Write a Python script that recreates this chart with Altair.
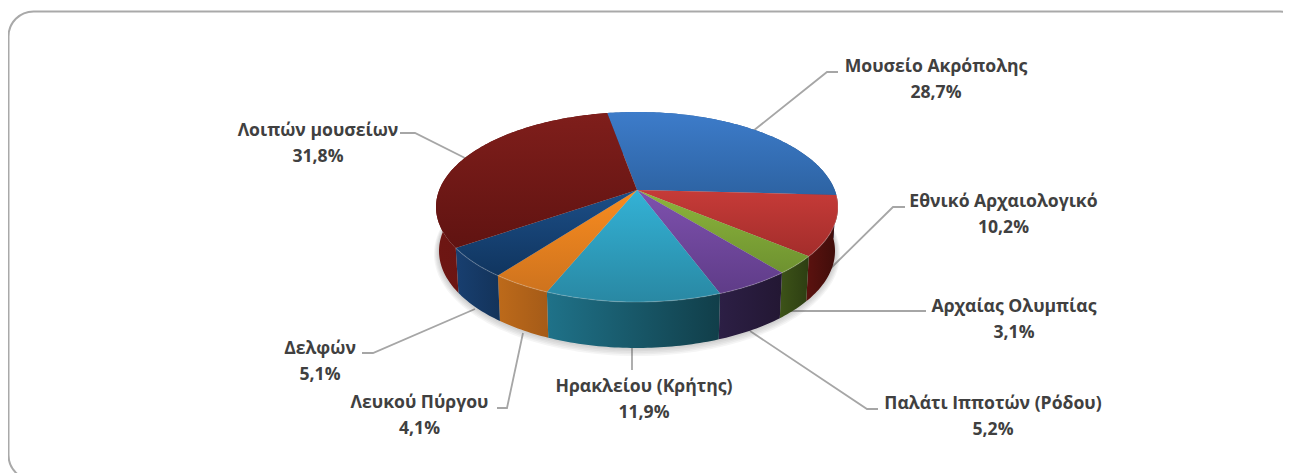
import math
import altair as alt

# ---- data ----
names = ["Μουσείο Ακρόπολης", "Εθνικό Αρχαιολογικό", "Αρχαίας Ολυμπίας", "Παλάτι Ιπποτών (Ρόδου)",
         "Ηρακλείου (Κρήτης)", "Λευκού Πύργου", "Δελφών", "Λοιπών μουσείων"]
shares = [28.7, 10.2, 3.1, 5.2, 11.9, 4.1, 5.1, 31.8]
share_labels = ["28,7%", "10,2%", "3,1%", "5,2%", "11,9%", "4,1%", "5,1%", "31,8%"]

top_colors = [("#3D7CCA", "#2D63A3"), ("#C63B38", "#A32D2B"), ("#8DB53C", "#6E9230"), ("#7E51AE", "#5F3C88"),
              ("#33B2D6", "#2988A3"), ("#F98C1F", "#CE731E"), ("#1C4E87", "#10355F"), ("#7F1E1B", "#601311")]
wall_colors = [("#2D63A3", "#24508A"), ("#5C120F", "#3E0D0A"), ("#3D5318", "#2D3E12"), ("#2C1F45", "#231733"),
               ("#1F7289", "#113E49"), ("#BD6A1A", "#A55B18"), ("#183F70", "#13335A"), ("#6E1613", "#5C110F")]

label_x = [936, 1003.5, 1014, 993, 644, 419.5, 320, 318]
label_y = [72, 206.5, 311.5, 409, 392, 408, 354, 136]
line_gap = 26.4

leaders = [
    [(753, 131), (827, 72), (838, 72)],
    [(830, 269), (893, 207), (905, 207)],
    [(790, 311), (926, 311)],
    [(750, 331), (867, 409), (878, 409)],
    [(632, 348), (632, 370)],
    [(523, 333), (507, 408), (497, 408)],
    [(475, 309), (373, 353), (362, 353)],
    [(465, 158), (415, 133), (400, 133)],
]

start_angle = -10.2          # degrees clockwise from top at which the first slice starts
apex_shift = 0.179           # how far the pie's centre sits behind the ellipse centre
top_ell = (637, 207, 201, 95)
bot_ell = (637, 251, 198, 97)

# ---- geometry derived from the shares ----
total = sum(shares)

def unit(theta_deg):
    th = math.radians(theta_deg)
    x, y = math.sin(th), math.cos(th)
    d = 1 + apex_shift * y
    return x * math.sqrt(1 - apex_shift ** 2) / d, (y + apex_shift) / d

def on(ell, theta_deg):
    u, v = unit(theta_deg)
    return [ell[0] + ell[2] * u, ell[1] - ell[3] * v]

def steps(a, b):
    n = max(2, int(abs(b - a)) + 1)
    return [a + (b - a) * i / n for i in range(n + 1)]

apex = [top_ell[0], top_ell[1] - apex_shift * top_ell[3]]

def poly(coords):
    return {"type": "Feature", "properties": {},
            "geometry": {"type": "Polygon", "coordinates": [coords + [coords[0]]]}}

def path(coords):
    return {"type": "Feature", "properties": {},
            "geometry": {"type": "LineString", "coordinates": coords}}

def grad(pair, vertical):
    stops = [alt.GradientStop(color=pair[0], offset=0), alt.GradientStop(color=pair[1], offset=1)]
    if vertical:
        return alt.Gradient(gradient="linear", x1=0, y1=0, x2=0, y2=1, stops=stops)
    return alt.Gradient(gradient="linear", x1=0, y1=0, x2=1, y2=0, stops=stops)

def geo(feature):
    return alt.Chart(alt.Data(values=[feature]))

layers = []

# frame (runs off the right and bottom of the picture)
layers.append(alt.Chart(alt.Data(values=[{"a": 1}])).mark_rect(
    fill="#FFFFFF", fillOpacity=0, stroke="#A9A9A9", strokeWidth=2, cornerRadius=25
).encode(x=alt.value(0.5), x2=alt.value(1297), y=alt.value(3.5), y2=alt.value(472)))

# leader lines
for pts in leaders:
    layers.append(geo(path([list(p) for p in pts])).mark_geoshape(
        filled=False, stroke="#A6A6A6", strokeWidth=1.8))

# soft shadow
for grow in [5, 4, 3, 2, 1]:
    ell = (bot_ell[0], bot_ell[1] + grow * 0.6, bot_ell[2] + grow, bot_ell[3] + grow)
    layers.append(geo(poly([on(ell, a) for a in range(0, 360, 2)])).mark_geoshape(
        fill="#555555", fillOpacity=0.06, stroke=None))

# walls, then top faces
edges = [start_angle]
for s in shares:
    edges.append(edges[-1] + 360 * s / total)

for i in range(len(shares)):
    a, b = edges[i], edges[i + 1]
    coords = [on(top_ell, t) for t in steps(a, b)] + [on(bot_ell, t) for t in reversed(steps(a, b))]
    layers.append(geo(poly(coords)).mark_geoshape(fill=grad(wall_colors[i], False), stroke=None))

for i in range(len(shares)):
    a, b = edges[i], edges[i + 1]
    coords = [apex] + [on(top_ell, t) for t in steps(a, b)]
    layers.append(geo(poly(coords)).mark_geoshape(fill=grad(top_colors[i], True), stroke=None))

# faint bevel on the front rim
layers.append(geo(path([on(top_ell, t) for t in steps(edges[1], edges[7])])).mark_geoshape(
    filled=False, stroke="#FFFFFF", strokeOpacity=0.18, strokeWidth=1.2))

# labels
rows = []
for n, p, x, y in zip(names, share_labels, label_x, label_y):
    rows.append({"t": n, "lon": x, "lat": y})
    rows.append({"t": p, "lon": x, "lat": y + line_gap})
layers.append(alt.Chart(alt.Data(values=rows)).mark_text(
    font="Open Sans", fontWeight="bold", fontSize=17.6, color="#404040", align="center", baseline="alphabetic"
).encode(longitude="lon:Q", latitude="lat:Q", text="t:N"))

chart = alt.layer(*layers).project(type="identity", scale=1, translate=[-8, -8]).properties(
    width=1275, height=465, padding=0,
    autosize=alt.AutoSizeParams(type="none"),
    background="#FFFFFF",
).configure_view(stroke=None)

chart.save("out.html", embed_options={"renderer": "svg", "actions": False})
